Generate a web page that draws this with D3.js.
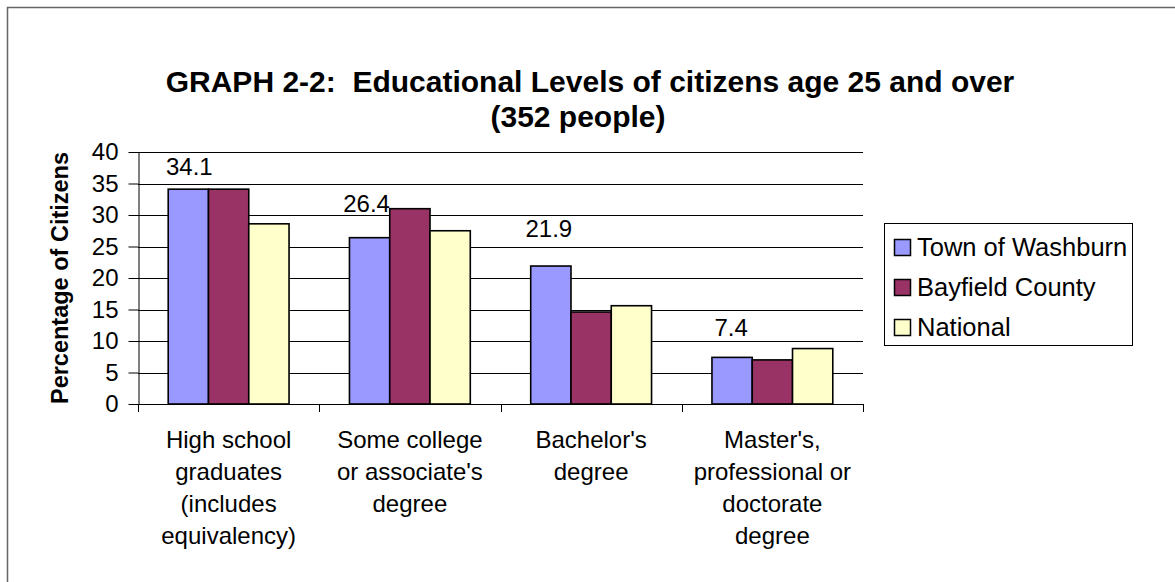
<!DOCTYPE html>
<html>
<head>
<meta charset="utf-8">
<script src="https://cdn.jsdelivr.net/npm/d3@7"></script>
<style>
  body{margin:0;background:#fff;}
  svg text{font-family:"Liberation Sans",Arial,sans-serif;fill:#000;white-space:pre;}
</style>
</head>
<body>
<svg id="chart" width="1175" height="582"></svg>
<script>
const categories=["hs","college","bachelor","master"];
const categoryLines=[
  ["High school","graduates","(includes","equivalency)"],
  ["Some college","or associate's","degree"],
  ["Bachelor's","degree"],
  ["Master's,","professional or","doctorate","degree"]
];
const seriesNames=["Town of Washburn","Bayfield County","National"];
const washburn=[34.1,26.4,21.9,7.4];
const bayfield=[34.1,31.0,14.6,7.0];
const national=[28.6,27.5,15.6,8.8];
const yTicks=[0,5,10,15,20,25,30,35,40];
const colors=["#9999ff","#993366","#ffffcc"];
// hand placed label offsets (the original labels were dragged around)
const labelShift=[[1,-14],[-3,-26],[-2,-29],[-1,-21]];

const svg=d3.select("#chart");
const plotL=138, plotR=863, plotT=152, plotB=404;

// outer frame
svg.append("rect").attr("x",7.5).attr("y",7.5).attr("width",1200).attr("height",600)
  .attr("fill","none").attr("stroke","#666").attr("stroke-width",1.5);

const x=d3.scaleBand().domain(categories).range([plotL,plotR]);
const xs=d3.scaleBand().domain(seriesNames).range([0,x.bandwidth()]).paddingInner(0).paddingOuter(0.75);
const y=d3.scaleLinear().domain([0,40]).range([plotB,plotT]);

// gridlines
svg.append("g").selectAll("line").data(yTicks.filter(d=>d>0)).join("line")
  .attr("x1",plotL).attr("x2",plotR)
  .attr("y1",d=>Math.round(y(d))+0.5).attr("y2",d=>Math.round(y(d))+0.5)
  .attr("stroke","#000").attr("stroke-width",1);

// y axis
const yAxis=svg.append("g").attr("transform",`translate(${plotL+0.5},0)`)
  .call(d3.axisLeft(y).tickValues(yTicks).tickSize(10).tickPadding(10).tickSizeOuter(0));
yAxis.select(".domain").attr("stroke","#000");
yAxis.selectAll("line").attr("stroke","#000");
yAxis.selectAll("text").attr("font-size","24px").attr("font-family","Liberation Sans, Arial, sans-serif").attr("fill","#000");

const series=[washburn,bayfield,national];
const rows=categories.map((c,i)=>({c,i,vals:series.map(s=>s[i])}));

const groups=svg.append("g").selectAll("g").data(rows).join("g")
  .attr("transform",d=>`translate(${x(d.c)},0)`);
groups.selectAll("rect").data(d=>d.vals.map((v,j)=>({v,name:seriesNames[j],j}))).join("rect")
  .attr("x",d=>xs(d.name)).attr("width",xs.bandwidth())
  .attr("y",d=>y(d.v)).attr("height",d=>y(0)-y(d.v))
  .attr("fill",d=>colors[d.j]).attr("stroke","#000").attr("stroke-width",1.6);

// data labels for Town of Washburn only
groups.append("text")
  .attr("x",d=>xs(seriesNames[0])+xs.bandwidth()/2+labelShift[d.i][0])
  .attr("y",d=>y(washburn[d.i])+labelShift[d.i][1])
  .attr("text-anchor","middle").attr("font-size","24px")
  .text(d=>washburn[d.i].toFixed(1));

// x axis
svg.append("line").attr("x1",plotL).attr("x2",plotR).attr("y1",plotB+0.5).attr("y2",plotB+0.5).attr("stroke","#000");
svg.append("g").selectAll("line").data(categories.concat(["end"])).join("line")
  .attr("x1",(d,i)=>Math.round(plotL+i*x.step())+0.5).attr("x2",(d,i)=>Math.round(plotL+i*x.step())+0.5)
  .attr("y1",plotB).attr("y2",plotB+8).attr("stroke","#000");

const catText=svg.append("g").selectAll("text").data(categories).join("text")
  .attr("text-anchor","middle").attr("font-size","24px")
  .attr("x",d=>x(d)+x.bandwidth()/2).attr("y",448);
catText.selectAll("tspan").data((d,i)=>categoryLines[i]).join("tspan")
  .attr("x",function(){return this.parentNode.getAttribute("x");})
  .attr("dy",(d,i)=>i===0?0:32).text(d=>d);

// y title
svg.append("text").attr("transform",`translate(68,${(plotT+plotB)/2}) rotate(-90)`)
  .attr("text-anchor","middle").attr("font-size","23.5px").attr("font-weight","bold")
  .text("Percentage of Citizens");

// title
svg.append("text").attr("x",590).attr("y",92).attr("text-anchor","middle")
  .attr("font-size","30px").attr("font-weight","bold")
  .text("GRAPH 2-2:  Educational Levels of citizens age 25 and over");
svg.append("text").attr("x",578).attr("y",127).attr("text-anchor","middle")
  .attr("font-size","30px").attr("font-weight","bold")
  .text("(352 people)");

// legend
const lg=svg.append("g");
lg.append("rect").attr("x",884.5).attr("y",223.5).attr("width",248).attr("height",122)
  .attr("fill","#fff").attr("stroke","#000");
const items=lg.selectAll("g").data(seriesNames).join("g")
  .attr("transform",(d,i)=>`translate(894,${247+i*40})`);
items.append("rect").attr("x",0.5).attr("y",-7.5).attr("width",16).attr("height",16)
  .attr("fill",(d,i)=>colors[i]).attr("stroke","#000").attr("stroke-width",1.5);
items.append("text").attr("x",23).attr("y",9).attr("font-size","25.5px").text(d=>d);
</script>
</body>
</html>
